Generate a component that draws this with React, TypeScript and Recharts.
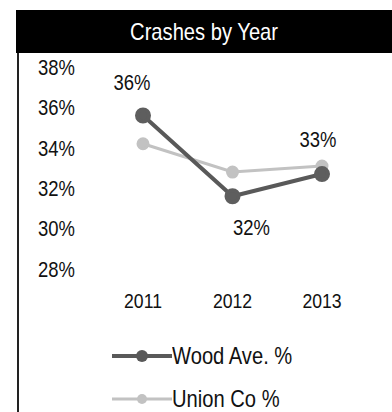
import { Legend, LabelList, Line, LineChart, XAxis, YAxis } from "recharts";

const years = ["2011", "2012", "2013"];
const woodAve = [35.6, 31.6, 32.7];
const unionCo = [34.2, 32.8, 33.1];
const yTicks = [28, 30, 32, 34, 36, 38];
const legendOrder = ["wood", "union"];

const data = years.map((year, i) => ({ year, wood: woodAve[i], union: unionCo[i] }));

const FONT = '"Liberation Sans", Arial, sans-serif';
// the original uses a condensed face; squeeze the regular one horizontally
const SQUEEZE = 0.84;

// label offsets relative to each Wood Ave. point, as in the original
const labelOffsets = [
  { dx: -11, dy: -33 },
  { dx: 19, dy: 31 },
  { dx: -4, dy: -35 },
];

function NarrowText({ x, y, anchor, size, dy, children }: any) {
  return (
    <text
      transform={`translate(${x},${y}) scale(${SQUEEZE},1)`}
      textAnchor={anchor}
      dy={dy}
      fontFamily={FONT}
      fontSize={size}
      fill="#111"
    >
      {children}
    </text>
  );
}

function XTick(props: any) {
  const { x, y, payload } = props;
  return (
    <NarrowText x={x} y={y} anchor="middle" size={21} dy="0.71em">
      {payload.value}
    </NarrowText>
  );
}

function YTick(props: any) {
  const { x, y, payload } = props;
  return (
    <NarrowText x={x} y={y} anchor="end" size={22} dy="0.355em">
      {payload.value}%
    </NarrowText>
  );
}

function PointLabel(props: any) {
  const { x, y, value, index } = props;
  const off = labelOffsets[index] ?? { dx: 0, dy: -20 };
  return (
    <NarrowText x={x + off.dx} y={y + off.dy} anchor="middle" size={22} dy="0.355em">
      {Math.round(value)}%
    </NarrowText>
  );
}

function ChartLegend({ payload }: { payload?: any[] }) {
  if (!payload) return null;
  const items = [...payload].sort(
    (a, b) => legendOrder.indexOf(a.dataKey) - legendOrder.indexOf(b.dataKey)
  );
  return (
    <div style={{ fontFamily: FONT }}>
      {items.map((p) => {
        const wide = p.dataKey === "wood";
        return (
          <div key={p.dataKey} style={{ display: "flex", alignItems: "center", height: 43 }}>
            <svg width={60} height={14}>
              <line x1={0} y1={7} x2={60} y2={7} stroke={p.color} strokeWidth={wide ? 4 : 3} />
              <circle cx={30} cy={7} r={wide ? 6 : 5} fill={p.color} />
            </svg>
            <span
              style={{
                fontSize: 24,
                color: "#111",
                whiteSpace: "nowrap",
                display: "inline-block",
                transform: `scaleX(${SQUEEZE})`,
                transformOrigin: "left center",
              }}
            >
              {p.value}
            </span>
          </div>
        );
      })}
    </div>
  );
}

export default function App() {
  return (
    <div style={{ position: "absolute", left: 0, top: 0, width: 392, height: 412, background: "#fff" }}>
      <div
        style={{
          position: "absolute",
          left: 16,
          top: 10,
          width: 376,
          height: 43,
          background: "#000",
          color: "#fff",
          fontFamily: FONT,
          fontSize: 24,
          lineHeight: "43px",
          textAlign: "center",
        }}
      >
        <span style={{ display: "inline-block", transform: `scaleX(${SQUEEZE})` }}>Crashes by Year</span>
      </div>
      <div style={{ position: "absolute", left: 17, top: 53, width: 2, height: 359, background: "#222" }} />
      <LineChart
        width={392}
        height={412}
        data={data}
        margin={{ top: 67, right: 25, left: 0, bottom: 103 }}
      >
        <XAxis
          dataKey="year"
          axisLine={false}
          tickLine={false}
          tickSize={0}
          tickMargin={24}
          height={40}
          padding={{ left: 45, right: 45 }}
          tick={<XTick />}
        />
        <YAxis
          domain={[28, 38]}
          ticks={yTicks}
          axisLine={false}
          tickLine={false}
          tickSize={0}
          tickMargin={23}
          width={98}
          tick={<YTick />}
        />
        <Legend
          layout="horizontal"
          verticalAlign="middle"
          align="center"
          content={<ChartLegend />}
          wrapperStyle={{ position: "absolute", top: 334, left: 112, width: 220 }}
        />
        <Line
          dataKey="union"
          name="Union Co %"
          stroke="#c2c2c2"
          strokeWidth={3}
          dot={{ r: 5, fill: "#c2c2c2", stroke: "#c2c2c2" }}
          activeDot={false}
          isAnimationActive={false}
        />
        <Line
          dataKey="wood"
          name="Wood Ave. %"
          stroke="#595959"
          strokeWidth={4}
          dot={{ r: 6, fill: "#5e5e5e", stroke: "#5e5e5e" }}
          activeDot={false}
          isAnimationActive={false}
        >
          <LabelList dataKey="wood" content={<PointLabel />} />
        </Line>
      </LineChart>
    </div>
  );
}
